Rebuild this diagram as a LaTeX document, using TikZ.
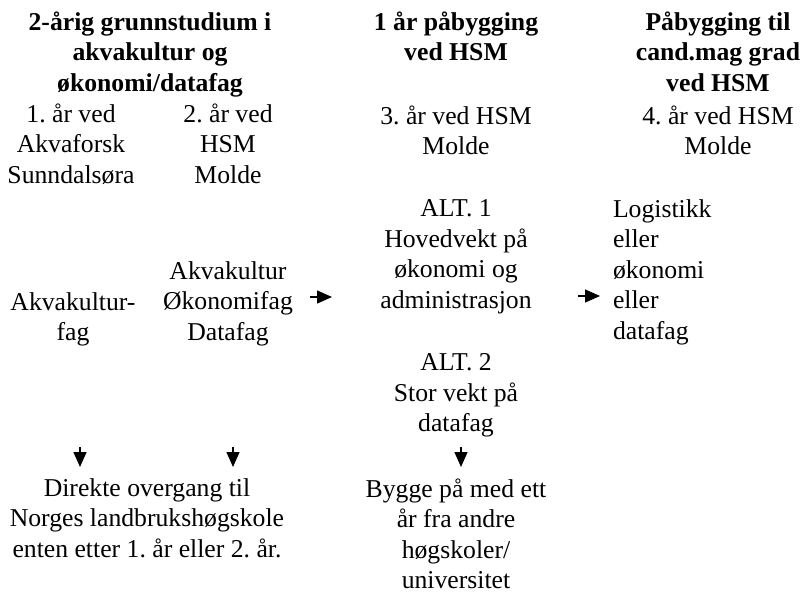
\documentclass[tikz,border=0pt]{standalone}
\usepackage{fontspec}
\setmainfont{Liberation Serif}
\usetikzlibrary{arrows.meta}
\frenchspacing
\tikzset{
  txt/.style={inner sep=0pt, outer sep=0pt, align=center, anchor=north,
    font=\fontsize{25.7}{30.5}\selectfont, execute at begin node=\strut},
  hdr/.style={txt, font=\fontsize{25.7}{30.5}\selectfont\bfseries},
  lst/.style={txt, align=left, anchor=north west},
  arr/.style={line width=1.3pt, -{Triangle[length=15pt,width=13pt]}}
}
\begin{document}
\begin{tikzpicture}[x=1pt,y=-1pt]
\useasboundingbox (0,0) rectangle (804,595);
% baseline of first line minus 21.35 (strut height)
\node[hdr] (h1) at (150,11.65) {2-årig grunnstudium i\\akvakultur og\\økonomi/datafag};
\node[txt] (y1) at (71,103.65) {1. år ved\\Akvaforsk\\Sunndalsøra};
\node[txt] (y2) at (228,103.65) {2. år ved\\HSM\\Molde};
\node[txt] (f1) at (73,292.65) {Akvakultur-\\fag};
\node[txt] (f2) at (228,261.65) {Akvakultur\\Økonomifag\\Datafag};
\node[hdr] (h3) at (456,11.65) {1 år påbygging\\ved HSM};
\node[txt] (y3) at (456,105.65) {3. år ved HSM\\Molde};
\node[txt] (alt1) at (456,199.65) {ALT. 1\\Hovedvekt på\\økonomi og\\administrasjon};
\node[txt] (alt2) at (456,353.65) {ALT. 2\\Stor vekt på\\datafag};
\node[txt] (b3) at (456,478.65) {Bygge på med ett\\år fra andre\\høgskoler/\\universitet};
\node[hdr] (h4) at (718,11.65) {Påbygging til\\cand.mag grad\\ved HSM};
\node[txt] (y4) at (718,105.65) {4. år ved HSM\\Molde};
\node[lst] (f4) at (613,199.65) {Logistikk\\eller\\økonomi\\eller\\datafag};
\node[txt] (b1) at (147,478.65) {Direkte overgang til\\Norges landbrukshøgskole\\enten etter 1. år eller 2. år.};
% arrows
\coordinate (r1s) at (310,297); \coordinate (r1e) at (332,297);
\coordinate (r2s) at (578,296); \coordinate (r2e) at (600,296);
\coordinate (d1s) at (80,447);  \coordinate (d1e) at (80,467);
\coordinate (d2s) at (233,447); \coordinate (d2e) at (233,467);
\coordinate (d3s) at (461,447); \coordinate (d3e) at (461,467);
\draw[arr] (r1s) -- (r1e);
\draw[arr] (r2s) -- (r2e);
\draw[arr] (d1s) -- (d1e);
\draw[arr] (d2s) -- (d2e);
\draw[arr] (d3s) -- (d3e);
\end{tikzpicture}
\end{document}
